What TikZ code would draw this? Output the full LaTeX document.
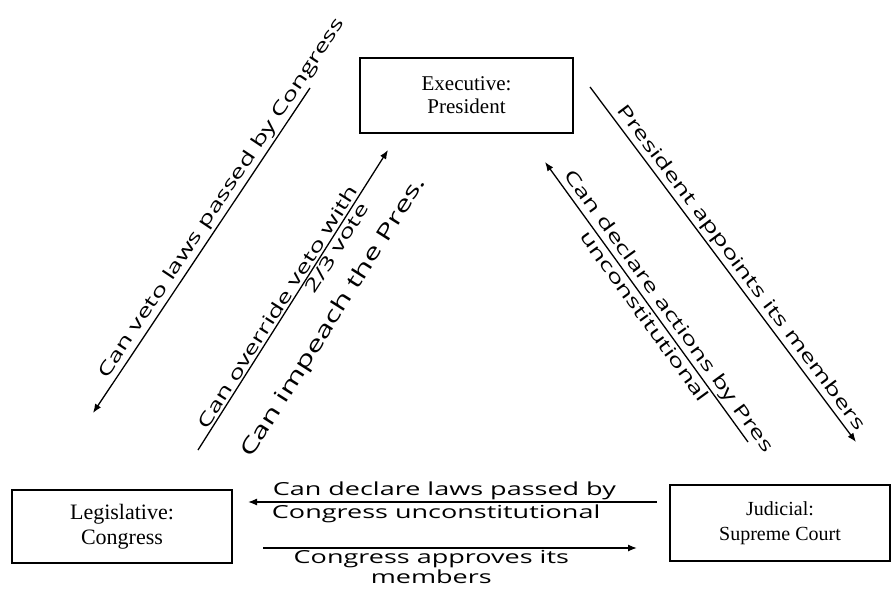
\documentclass[tikz,border=0pt]{standalone}
\usepackage{fontspec}
\setmainfont{Liberation Serif}
\newfontfamily\handfont[FakeStretch=1.5]{Open Sans}
\usetikzlibrary{arrows.meta}

\begin{document}
\begin{tikzpicture}[x=1pt, y=-1pt, >={Latex[length=9pt,width=7pt]},
    branch/.style={draw, line width=1.2pt, align=center, inner sep=0pt},
    link/.style={line width=1.3pt},
    hand/.style={font=\handfont\fontsize{18}{20}\selectfont, align=center, inner sep=2pt}]
  \useasboundingbox (0,0) rectangle (892,604);

  % the three branches
  \node[branch, minimum width=213pt, minimum height=75pt, font=\fontsize{21}{23}\selectfont] (exec) at (466.5,95.5) {Executive:\\President};
  \node[branch, minimum width=220pt, minimum height=73pt, font=\fontsize{22}{25}\selectfont] (leg) at (122,526.5) {Legislative:\\Congress};
  \node[branch, minimum width=220pt, minimum height=76pt, font=\fontsize{20}{25}\selectfont] (jud) at (780,523) {Judicial:\\Supreme Court};

  % arrow ends
  \coordinate (vetoA) at (93,413);
  \coordinate (vetoB) at (310,88);
  \coordinate (overA) at (198,450);
  \coordinate (overB) at (388,150);
  \coordinate (apptA) at (590,87);
  \coordinate (apptB) at (856,442);
  \coordinate (voidA) at (545,162);
  \coordinate (voidB) at (748,442);
  \coordinate (lawsA) at (248,502);
  \coordinate (lawsB) at (657,502);
  \coordinate (confA) at (263,548);
  \coordinate (confB) at (637,548);

  \draw[link, <-] (vetoA) -- node[hand, sloped, above, pos=0.64] (vetolbl) {Can veto laws passed by Congress} (vetoB);
  \draw[link, ->] (overA) -- node[hand, sloped, above, pos=0.46] (overlbl) {Can override veto with}
    node[hand, sloped, below, pos=0.69] (votelbl) {2/3 vote}
    node[hand, sloped, below=31pt, pos=0.52, font=\handfont\fontsize{21}{24}\selectfont] (implbl) {Can impeach the Pres.} (overB);
  \draw[link, ->] (apptA) -- node[hand, sloped, above, pos=0.53] (apptlbl) {President appoints its members} (apptB);
  \draw[link, <-] (voidA) -- node[hand, sloped, above, pos=0.56] (voidlbl) {Can declare actions by Pres}
    node[hand, sloped, below, pos=0.53] (unclbl) {unconstitutional} (voidB);
  \draw[link, <-] (lawsA) -- node[hand, above, pos=0.48] (lawslbl) {Can declare laws passed by}
    node[hand, below, pos=0.46] (conglbl) {Congress unconstitutional} (lawsB);
  \draw[link, ->] (confA) -- node[hand, below, pos=0.45] (conflbl) {Congress approves its\\members} (confB);
\end{tikzpicture}
\end{document}
